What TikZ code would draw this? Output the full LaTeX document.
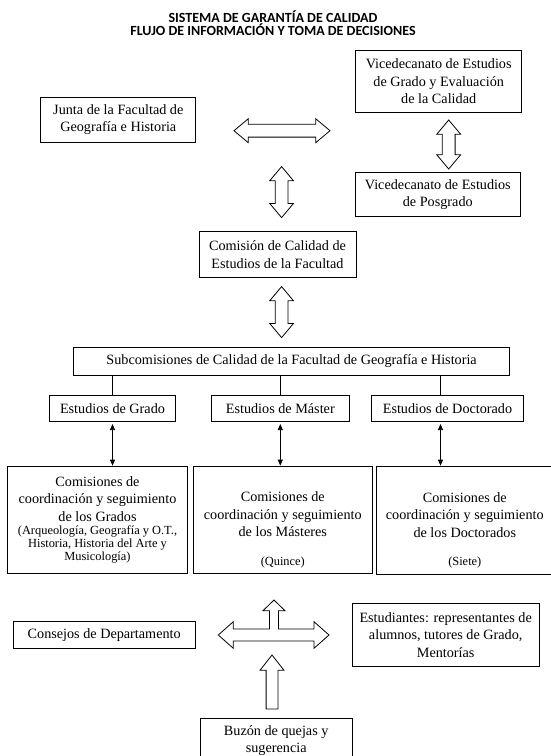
\documentclass[tikz,border=0pt]{standalone}
\usepackage{fontspec}
\setmainfont{Liberation Serif}
\newfontfamily\headfont{Carlito}
\usetikzlibrary{shapes.arrows,arrows.meta}
\newcommand{\smalltxt}{\fontsize{12.4}{13}\selectfont}

\begin{document}
\begin{tikzpicture}[x=1pt,y=-1pt,
    box/.style={draw, line width=0.8pt, align=center, inner sep=0pt, font=\fontsize{14.2}{17.5}\selectfont},
    blockarrow/.style={double arrow, draw, line width=0.8pt, inner xsep=0pt, inner ysep=6pt,
      double arrow head extend=5.5pt, double arrow tip angle=80, minimum width=0pt},
    link/.style={line width=0.8pt},
    twoway/.style={line width=0.8pt, {Triangle[width=5pt,length=6pt]}-{Triangle[width=5pt,length=6pt]}}]
  \useasboundingbox (0,0) rectangle (550,756);

  \node[align=center, font=\headfont\bfseries\fontsize{14}{13.3}\selectfont] (title) at (273,23.3)
    {SISTEMA DE GARANTÍA DE CALIDAD\\FLUJO DE INFORMACIÓN Y TOMA DE DECISIONES};

  % upper part
  \node[box, minimum width=155, minimum height=45] (junta) at (118.3,119.8) {Junta de la Facultad de\\Geografía e Historia};
  \node[box, minimum width=166, minimum height=62.7] (vgrado) at (438.7,81.3) {Vicedecanato de Estudios\\de Grado y Evaluación\\de la Calidad};
  \node[box, minimum width=164.3, minimum height=44] (vposgrado) at (437.8,194.7) {Vicedecanato de Estudios\\de Posgrado};
  \node[box, minimum width=157, minimum height=46.3] (comision) at (277.5,254.7) {Comisión de Calidad de\\Estudios de la Facultad};

  \node[blockarrow, minimum height=96] (a1) at (282,130.7) {};
  \node[blockarrow, minimum height=49, rotate=90] (a2) at (448.7,144.5) {};
  \node[blockarrow, minimum height=51, rotate=90] (a3) at (281.6,192.1) {};
  \node[blockarrow, minimum height=51, rotate=90] (a4) at (281.6,312.1) {};

  % subcomisiones
  \node[box, minimum width=435.8, minimum height=28] (subcom) at (291.6,361) {Subcomisiones de Calidad de la Facultad de Geografía e Historia};
  \node[box, minimum width=126.4, minimum height=26.7] (egrado) at (112.5,408.3) {Estudios de Grado};
  \node[box, minimum width=137.4, minimum height=26.7] (emaster) at (280.3,408.3) {Estudios de Máster};
  \node[box, minimum width=151.6, minimum height=26.7] (edoctor) at (447.5,408.3) {Estudios de Doctorado};

  \draw[link] (egrado.north) -- (egrado.north |- subcom.south);
  \draw[link] (emaster.north) -- (emaster.north |- subcom.south);
  \draw[link] ([xshift=-7.5pt]edoctor.north) -- ([xshift=-7.5pt]edoctor.north |- subcom.south);

  \node[box, minimum width=180.4, minimum height=107.3] (cgrado) at (97.5,519.7)
    {Comisiones de\\coordinación y seguimiento\\de los Grados\\[-4pt]{\smalltxt (Arqueología, Geografía y O.T.,}\\[-4.5pt]{\smalltxt Historia, Historia del Arte y}\\[-4.5pt]{\smalltxt Musicología)}};
  \node[box, minimum width=179, minimum height=107.3] (cmaster) at (282.8,519.7)
    {\rule{0pt}{30pt}Comisiones de\\coordinación y seguimiento\\de los Másteres\\[11pt]{\smalltxt (Quince)}};
  \node[box, minimum width=176.3, minimum height=108.3] (cdoctor) at (464.8,520.2)
    {\rule{0pt}{30pt}Comisiones de\\coordinación y seguimiento\\de los Doctorados\\[11pt]{\smalltxt (Siete)}};

  \draw[twoway, shorten <=2pt] (egrado.south) -- (egrado.south |- cgrado.north);
  \draw[twoway, shorten <=2pt] (emaster.south) -- (emaster.south |- cmaster.north);
  \draw[twoway, shorten <=2pt] ([xshift=-7pt]edoctor.south) -- ([xshift=-7pt]edoctor.south |- cdoctor.north);

  % lower part
  \node[box, minimum width=181.7, minimum height=26.7] (consejos) at (104.2,635) {Consejos de Departamento};
  \node[box, minimum width=186.7, minimum height=62.7] (estudiantes) at (445.7,634.7) {Estudiantes: representantes de\\alumnos, tutores de Grado,\\Mentorías};
  \node[box, minimum width=152.3, minimum height=44.7] (buzon) at (276.2,740.7) {Buzón de quejas y\\sugerencia};

  \draw[line width=0.8pt] (218.3,635) -- (233.3,621.7) -- (233.3,629) -- (269.5,629) -- (269.5,610.7) -- (263,610.7)
    -- (274,600) -- (285,610.7) -- (278.5,610.7) -- (278.5,629) -- (314,629) -- (314,621.7) -- (329,635)
    -- (314,648.3) -- (314,641) -- (233.3,641) -- (233.3,648.3) -- cycle;
  \node[single arrow, draw, line width=0.8pt, inner xsep=0pt, inner ysep=5.5pt, single arrow head extend=6pt,
    single arrow tip angle=76, minimum width=0pt, minimum height=54, rotate=90, anchor=tip] (a5) at (272,654.3) {};
\end{tikzpicture}
\end{document}
